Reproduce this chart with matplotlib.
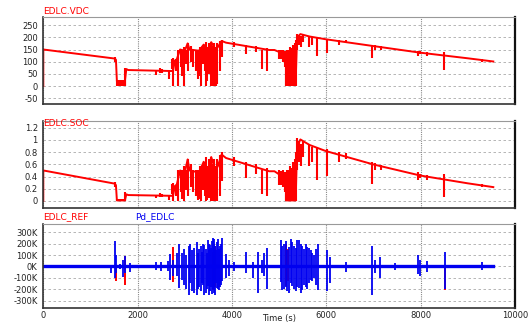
import matplotlib
matplotlib.use("Agg")
import matplotlib.pyplot as plt

RED = "#FF0000"
BLUE = "#0000F0"
INK = "#222222"

# trace of the EDLC voltage / state of charge (breakpoints)
TRACE_T = [0, 0, 1514, 1540, 1560, 1730, 1760, 1800, 2700, 2750, 2790, 2830, 2900,
           3000, 3060, 3100, 3300, 3400, 3500, 3560, 3650, 3700, 3780, 3873, 4788,
           4900, 5000, 5140, 5150, 5350, 5380, 5450, 5550, 5650, 5985, 7000, 7991,
           9000, 9540]
VDC_V = [0, 150, 113, 108, 20, 20, 70, 66, 62, 62, 105, 110, 150,
         145, 175, 150, 145, 170, 150, 180, 150, 160, 185, 178, 148,
         148, 140, 130, 20, 20, 200, 213, 208, 203, 192, 164, 137,
         114, 101]
SOC_V = [0, 0.5, 0.284, 0.259, 0.009, 0.009, 0.109, 0.097, 0.085, 0.085, 0.245, 0.269, 0.5,
         0.467, 0.681, 0.5, 0.467, 0.642, 0.5, 0.72, 0.5, 0.569, 0.761, 0.704, 0.487,
         0.487, 0.436, 0.376, 0.009, 0.009, 0.889, 1.008, 0.961, 0.916, 0.819, 0.598, 0.417,
         0.289, 0.227]

# fast transients on VDC / SOC: time, low, high
SPK_T = [1514, 1563, 1585, 1605, 1625, 1645, 1665, 1685, 1705, 1725, 1735,
         2394, 2465, 2510, 2661, 2732, 2760, 2866, 2922, 2979, 3063, 3134,
         3239, 3289, 3345, 3394, 3450, 3507, 3556, 3580, 3600, 3620, 3640,
         3660, 3690, 3746, 3788, 4049, 4295, 4507, 4647, 4753, 5000, 5040,
         5080, 5120, 5140, 5160, 5180, 5200, 5230, 5260, 5290, 5320, 5350,
         5380, 5420, 5460, 5500, 5633, 5703, 5809, 6020, 6267, 6421, 6970,
         7041, 7168, 7940, 7991, 8132, 8505, 9300,
         3570, 3590, 3610, 3630, 3650, 3670, 5150, 5170, 5190, 5210, 5245,
         5275, 5305, 5335, 2810, 2940, 3020, 3180, 3270, 3320, 3420, 3480]
VDC_LO = [100, 0, 0, 0, 0, 0, 0, 0, 0, 0, 0,
          45, 55, 55, 30, 70, 0, 0, 80, 0, 60, 100,
          60, 30, 0, 90, 0, 50, 0, 0, 0, 0, 0,
          0, 10, 60, 120, 160, 130, 140, 70, 60, 110, 110,
          100, 80, 0, 0, 0, 0, 0, 0, 0, 0, 0,
          150, 170, 160, 180, 160, 170, 125, 135, 170, 175, 115,
          150, 150, 125, 130, 125, 68, 100,
          0, 0, 0, 0, 0, 0, 0, 0, 0, 0, 0,
          0, 0, 0, 60, 40, 90, 80, 50, 40, 60, 20]
VDC_HI = [118, 25, 22, 25, 20, 25, 22, 25, 20, 25, 75,
          68, 75, 72, 65, 112, 115, 150, 150, 160, 175, 165,
          150, 150, 160, 165, 180, 175, 180, 150, 160, 170, 140,
          150, 175, 185, 190, 180, 170, 165, 150, 155, 150, 148,
          150, 145, 120, 150, 100, 130, 160, 110, 170, 140, 190,
          215, 210, 205, 210, 205, 200, 200, 195, 190, 188, 170,
          168, 163, 145, 142, 138, 141, 112,
          165, 145, 175, 160, 150, 140, 135, 145, 120, 150, 130,
          155, 125, 175, 110, 150, 150, 150, 145, 160, 170, 160]
SOC_LO = [0.222, 0, 0, 0, 0, 0, 0, 0, 0, 0, 0,
          0.045, 0.067, 0.067, 0.02, 0.109, 0, 0, 0.142, 0, 0.08, 0.222,
          0.08, 0.02, 0, 0.18, 0, 0.056, 0, 0, 0, 0, 0,
          0, 0.002, 0.08, 0.32, 0.569, 0.376, 0.436, 0.109, 0.08, 0.269, 0.269,
          0.222, 0.142, 0, 0, 0, 0, 0, 0, 0, 0, 0,
          0.5, 0.642, 0.569, 0.72, 0.569, 0.642, 0.347, 0.405, 0.642, 0.681, 0.27,
          0.5, 0.5, 0.347, 0.376, 0.347, 0.07, 0.222,
          0, 0, 0, 0, 0, 0, 0, 0, 0, 0, 0,
          0, 0, 0, 0.08, 0.036, 0.18, 0.142, 0.056, 0.036, 0.08, 0.009]
SOC_HI = [0.309, 0.03, 0.02, 0.03, 0.02, 0.03, 0.02, 0.03, 0.02, 0.03, 0.15,
          0.103, 0.125, 0.116, 0.094, 0.279, 0.294, 0.5, 0.5, 0.569, 0.681, 0.605,
          0.5, 0.5, 0.569, 0.605, 0.72, 0.681, 0.72, 0.5, 0.569, 0.642, 0.436,
          0.5, 0.681, 0.761, 0.802, 0.72, 0.642, 0.605, 0.5, 0.534, 0.5, 0.487,
          0.5, 0.467, 0.32, 0.5, 0.222, 0.376, 0.569, 0.269, 0.642, 0.436, 0.802,
          1.027, 0.98, 0.934, 0.98, 0.934, 0.889, 0.889, 0.845, 0.802, 0.785, 0.642,
          0.627, 0.59, 0.467, 0.448, 0.423, 0.442, 0.279,
          0.605, 0.467, 0.681, 0.569, 0.5, 0.436, 0.405, 0.467, 0.32, 0.5, 0.376,
          0.534, 0.347, 0.681, 0.269, 0.5, 0.5, 0.5, 0.467, 0.569, 0.642, 0.569]

# power demand bursts in kW: time, low, high
PD_T = [1444, 1514, 1550, 1620, 1690, 1726, 1845, 2394, 2500, 2641, 2690,
        2746, 2831, 2887, 2944, 2993, 3085, 3155, 3253, 3310, 3366, 3415,
        3465, 3507, 3556, 3592, 3626, 3662, 3704, 3746, 3788, 3873, 3943,
        4049, 4295, 4436, 4542, 4647, 4683, 4753, 5035, 5105, 5175, 5246,
        5316, 5387, 5457, 5527, 5598, 5668, 5739, 5830, 6020, 6070, 6421,
        6970, 7027, 7147, 7463, 7942, 7991, 8132, 8519, 9294,
        3030, 3120, 3200, 3280, 3340, 3390, 3440, 3485, 3530, 3575, 3610,
        3645, 3680, 3725, 3765, 5070, 5140, 5210, 5280, 5350, 5420, 5490,
        5560, 5630, 5700, 5780]
PD_LO = [-60, -100, -60, -20, -90, -60, -50, -30, -40, -40, -120,
         -80, -80, -190, -120, -160, -250, -220, -250, -180, -150, -250,
         -200, -250, -180, -200, -230, -150, -200, -180, -130, -100, -80,
         -40, -60, -100, -230, -60, -80, -200, -140, -200, -220, -150,
         -200, -180, -230, -160, -200, -120, -100, -210, -220, -150, -50,
         -250, -60, -100, -30, -70, -80, -50, -200, -30,
         -200, -150, -230, -200, -220, -160, -230, -170, -220, -240, -180,
         -250, -190, -210, -160, -210, -180, -230, -170, -220, -190, -210,
         -180, -150, -130, -160]
PD_HI = [15, 220, 100, 20, 60, 90, 30, 40, 40, 50, 110,
         60, 120, 200, 120, 150, 180, 140, 210, 150, 130, 190,
         120, 200, 160, 250, 200, 140, 240, 180, 250, 110, 60,
         40, 130, 40, 130, 60, 120, 160, 230, 200, 140, 240,
         180, 230, 200, 150, 170, 140, 100, 200, 140, 80, 40,
         180, 60, 80, 30, 100, 60, 50, 130, 40,
         100, 200, 160, 120, 180, 200, 150, 230, 190, 220, 240,
         180, 210, 150, 200, 180, 220, 170, 210, 160, 230, 180,
         200, 160, 120, 150]
REF_T = [1550, 1726, 2746, 3600, 3640, 5150, 5190, 8519]
REF_LO = [-130, -160, -140, -210, -180, -175, -130, -210]
REF_HI = [0, 90, 170, 130, 175, 200, 150, 0]

VDC_TICKS = [250, 200, 150, 100, 50, 0, -50]
SOC_TICKS = [1.2, 1.0, 0.8, 0.6, 0.4, 0.2, 0.0]
SOC_LABELS = ["1.2", "1", "0.8", "0.6", "0.4", "0.2", "0"]
PD_TICKS = [300, 200, 100, 0, -100, -200, -300]
X_TICKS = [0, 2000, 4000, 6000, 8000, 10000]

plt.rcParams["font.family"] = ["DejaVu Sans"]

W, H = 528, 323
fig = plt.figure(figsize=(W / 100, H / 100), dpi=100)
fig.patch.set_facecolor("white")


def panel(top, bottom):
    ax = fig.add_axes([43.3 / W, 1 - bottom / H, 471.7 / W, (bottom - top) / H])
    ax.set_xlim(0, 10000)
    ax.set_xticks(X_TICKS)
    ax.tick_params(length=0, labelsize=6, colors=INK, pad=4)
    for s in ["left", "bottom"]:
        ax.spines[s].set_color("#333333")
        ax.spines[s].set_linewidth(1.2)
    ax.spines["top"].set_color("#999999")
    ax.spines["top"].set_linewidth(0.8)
    ax.spines["right"].set_color("#111111")
    ax.spines["right"].set_linewidth(1.6)
    ax.xaxis.grid(True, color="#888888", ls=(0, (1, 1)), lw=0.8)
    ax.yaxis.grid(True, color="#aaaaaa", ls=(0, (3, 3)), lw=0.6)
    ax.set_axisbelow(True)
    return ax


def kilo(vals):
    return [v * 1000 for v in vals]


# --- EDLC.VDC
ax1 = panel(17, 104)
ax1.set_ylim(-73, 283)
ax1.set_yticks(VDC_TICKS)
ax1.set_yticklabels([str(v) for v in VDC_TICKS])
ax1.set_xticklabels([])
ax1.plot(TRACE_T, VDC_V, color=RED, lw=1.4)
ax1.vlines(SPK_T, VDC_LO, VDC_HI, color=RED, lw=1.5)
fig.text(43 / W, 1 - 11 / H, "EDLC.VDC", color=RED, fontsize=6.5, va="center")

# --- EDLC.SOC
ax2 = panel(120.7, 208)
ax2.set_ylim(-0.115, 1.315)
ax2.set_yticks(SOC_TICKS)
ax2.set_yticklabels(SOC_LABELS)
ax2.set_xticklabels([])
ax2.plot(TRACE_T, SOC_V, color=RED, lw=1.4)
ax2.vlines(SPK_T, SOC_LO, SOC_HI, color=RED, lw=1.5)
fig.text(43 / W, 1 - 124 / H, "EDLC.SOC", color=RED, fontsize=6.5, va="center")

# --- EDLC_REF / Pd_EDLC
ax3 = panel(224, 308)
ax3.set_ylim(-365000, 372000)
ax3.set_yticks(kilo(PD_TICKS))
ax3.set_yticklabels(["%dK" % v for v in PD_TICKS])
ax3.set_xticklabels([str(v) for v in X_TICKS])
ax3.tick_params(axis="x", pad=2)
ax3.plot([0, 9540], [0, 0], color=RED, lw=2.0)
ax3.vlines(REF_T, kilo(REF_LO), kilo(REF_HI), color=RED, lw=1.4)
ax3.plot([0, 9540], [0, 0], color=BLUE, lw=2.4)
ax3.vlines(PD_T, kilo(PD_LO), kilo(PD_HI), color=BLUE, lw=1.3)
fig.text(279 / W, 1 - 318 / H, "Time (s)", color=INK, fontsize=6, ha="center", va="center")
fig.text(43 / W, 1 - 217 / H, "EDLC_REF", color=RED, fontsize=6.5, va="center")
fig.text(135 / W, 1 - 217 / H, "Pd_EDLC", color=BLUE, fontsize=6.5, va="center")

fig.savefig("out.png", dpi=100, facecolor="white")
